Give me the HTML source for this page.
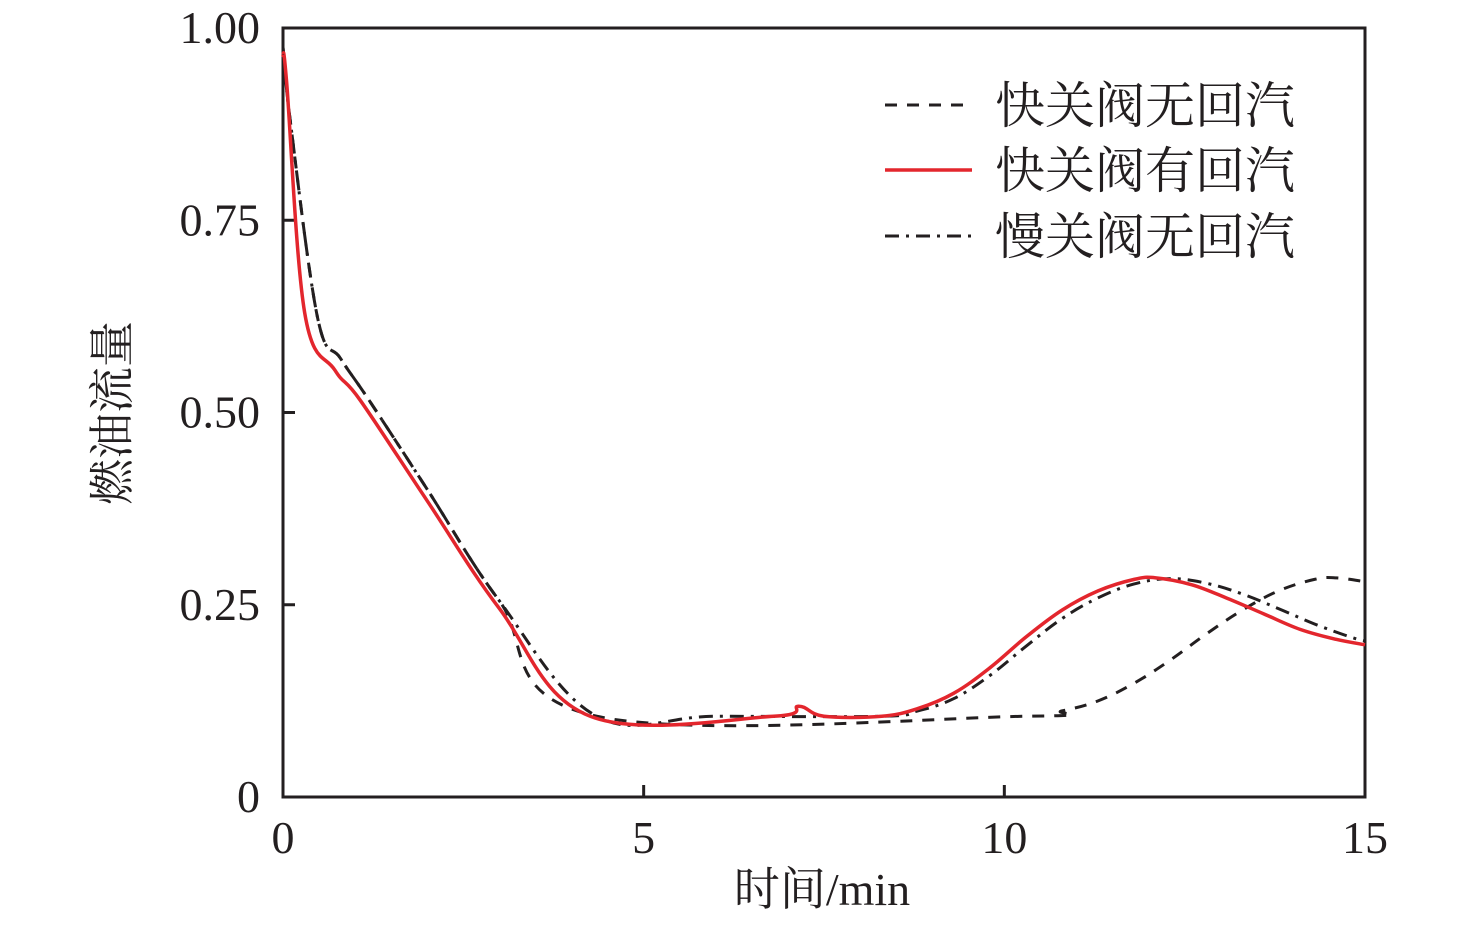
<!DOCTYPE html>
<html><head><meta charset="utf-8"><style>
body{margin:0;background:#fff}
svg text{font-family:"Liberation Serif","Noto Serif CJK SC",serif;fill:#231f20}
</style></head><body>
<svg width="1476" height="922">
<g id="axes"></g>
<g id="series"></g>
<g>
<line x1="885" y1="105" x2="972" y2="105" stroke="#231f20" stroke-width="3" stroke-dasharray="12,10"/>
<text x="995" y="123" font-size="50">快关阀无回汽</text>
<line x1="885" y1="170" x2="972" y2="170" stroke="#e3262d" stroke-width="3.5"/>
<text x="995" y="188" font-size="50">快关阀有回汽</text>
<line x1="885" y1="236" x2="972" y2="236" stroke="#231f20" stroke-width="3" stroke-dasharray="14,7,3,7"/>
<text x="995" y="254" font-size="50">慢关阀无回汽</text>
</g>
<text x="822" y="905" font-size="46" text-anchor="middle">时间/min</text>
<text transform="translate(128,413) rotate(-90)" font-size="46" text-anchor="middle">燃油流量</text>
</svg>
<script>
const xTicks=[0,5,10,15];
const xTickLabels=["0","5","10","15"];
const yTicks=[0,0.25,0.5,0.75,1];
const yTickLabels=["0","0.25","0.50","0.75","1.00"];
const tSlow=[0,0.1,0.48,0.8,1.2,2,3,4.35,6,8.3,8.8,9.3,9.8,10.3,10.8,11.3,11.8,12.3,12.8,13.3,13.8,14.3,14.8,15];
const vSlow=[0.975,0.88,0.623,0.57,0.515,0.4,0.255,0.105,0.105,0.105,0.112,0.128,0.158,0.196,0.232,0.259,0.277,0.284,0.278,0.264,0.245,0.225,0.208,0.203];
const tFastReflux=[0,0.05,0.3,0.72,1.07,2,3,4.26,6.8,7.15,7.5,8.3,8.8,9.3,9.8,10.3,10.8,11.3,11.8,12.1,12.6,13.1,13.6,14.1,14.6,15];
const vFastReflux=[0.965,0.93,0.63,0.555,0.516,0.385,0.245,0.105,0.105,0.118,0.105,0.105,0.115,0.135,0.168,0.208,0.243,0.268,0.283,0.285,0.276,0.258,0.238,0.218,0.205,0.198];
const tFast=[0,0.1,0.48,0.8,1.2,2,3,4.35,10.3,10.8,11.3,11.8,12.3,12.8,13.3,13.8,14.3,14.6,15];
const vFast=[0.975,0.88,0.623,0.57,0.515,0.4,0.255,0.105,0.105,0.112,0.125,0.148,0.178,0.212,0.243,0.268,0.283,0.285,0.28];
const X0=283,X1=1365,Y0=797,Y1=28;
const sx=t=>X0+t/15*(X1-X0);
const sy=v=>Y0-v*(Y0-Y1);
const NS="http://www.w3.org/2000/svg";
function mk(tag,attrs,parent){const e=document.createElementNS(NS,tag);for(const k in attrs)e.setAttribute(k,attrs[k]);parent.appendChild(e);return e;}
const ax=document.getElementById('axes');
const fr=mk('rect',{x:X0,y:Y1,width:X1-X0,height:Y0-Y1,fill:'none',stroke:'#231f20','stroke-width':3},ax);


xTicks.forEach((t,i)=>{
 const l=mk('line',{x1:sx(t),y1:Y0,x2:sx(t),y2:Y0-12,stroke:'#231f20','stroke-width':3},ax);
 
 
 const tx=mk('text',{x:sx(t),y:853,'font-size':46,'text-anchor':'middle'},ax);tx.textContent=xTickLabels[i];
 
 
});
yTicks.forEach((v,i)=>{
 const l=mk('line',{x1:X0,y1:sy(v),x2:X0+12,y2:sy(v),stroke:'#231f20','stroke-width':3},ax);
 
 
 const tx=mk('text',{x:260,y:sy(v)+15,'font-size':46,'text-anchor':'end'},ax);tx.textContent=yTickLabels[i];
 
 
});
function path(ts,vs){
 const p=ts.map((t,i)=>[sx(t),sy(vs[i])]);
 let d='M'+p[0][0]+','+p[0][1];
 for(let i=0;i<p.length-1;i++){
  const a=p[Math.max(i-1,0)],b=p[i],c=p[i+1],e=p[Math.min(i+2,p.length-1)];
  const k=0.18;
  d+=' C'+(b[0]+(c[0]-a[0])*k)+','+(b[1]+(c[1]-a[1])*k)+' '+(c[0]-(e[0]-b[0])*k)+','+(c[1]-(e[1]-b[1])*k)+' '+c[0]+','+c[1];
 }
 return d;
}
const sg=document.getElementById('series');
const s1=mk('path',{d:path(tFast,vFast),fill:'none',stroke:'#231f20','stroke-width':3,'stroke-dasharray':'12,10'},sg);


const s3=mk('path',{d:path(tSlow,vSlow),fill:'none',stroke:'#231f20','stroke-width':3,'stroke-dasharray':'14,7,3,7'},sg);


const s2=mk('path',{d:path(tFastReflux,vFastReflux),fill:'none',stroke:'#e3262d','stroke-width':3.5},sg);


</script>
</body></html>
